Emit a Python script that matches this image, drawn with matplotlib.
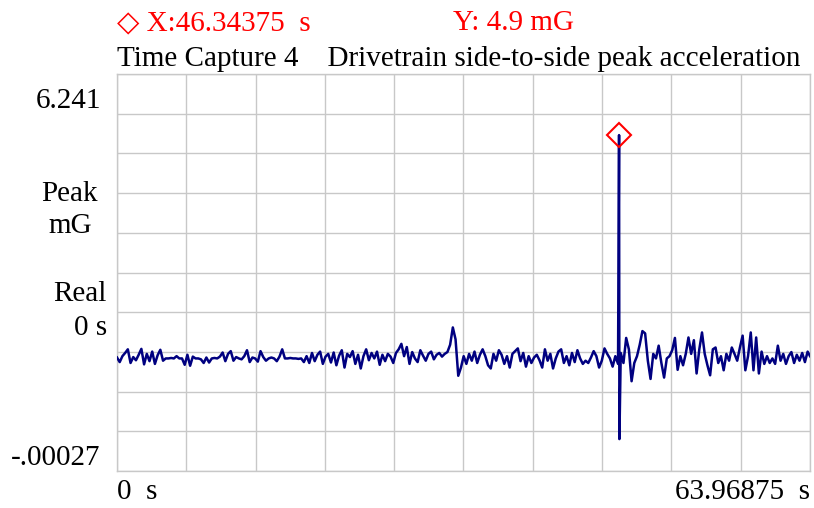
import matplotlib.pyplot as plt
import numpy as np

# Drivetrain side-to-side peak acceleration, time capture 4
t_end = 63.96875
t_step = 0.25
peak_t = 46.34375
peak_mg = 4.9
y_top = 6.241
y_bottom = -2.47

# peak acceleration (mG) sampled every 0.25 s from 0 s
accel_mg = [
    0.02, -0.08, 0.05, 0.12, 0.20, -0.10, 0.03, -0.04, 0.08, 0.21, -0.13, 0.10, -0.06, 0.15, -0.12, 0.07,
    0.19, -0.05, 0.00, 0.00, 0.01, 0.00, 0.05, 0.00, 0.00, -0.14, 0.08, -0.16, 0.04, 0.00, 0.00, -0.02,
    -0.10, 0.02, -0.09, 0.00, 0.01, 0.00, 0.04, 0.13, -0.06, 0.10, 0.16, -0.05, 0.03, 0.00, -0.02, 0.05,
    0.18, -0.08, 0.02, 0.00, -0.07, 0.16, 0.03, -0.05, 0.00, 0.02, 0.00, -0.06, 0.04, 0.20, 0.00, 0.00,
    0.01, 0.00, 0.00, -0.01, 0.00, -0.08, 0.05, -0.10, 0.12, -0.06, 0.08, 0.15, -0.12, 0.04, 0.10, -0.09,
    0.13, -0.15, 0.06, 0.18, -0.20, 0.10, 0.03, 0.16, -0.12, 0.08, -0.22, 0.05, 0.20, -0.04, 0.12, 0.00,
    0.15, -0.14, 0.08, -0.06, 0.10, 0.04, -0.10, 0.12, 0.20, 0.32, 0.05, 0.25, -0.12, 0.14, 0.00, -0.08,
    0.18, 0.06, -0.05, 0.10, 0.15, -0.02, 0.08, 0.12, 0.04, 0.10, 0.14, 0.30, 0.68, 0.42, -0.38, -0.20,
    0.05, -0.12, 0.10, -0.05, 0.15, -0.10, 0.08, 0.20, 0.05, -0.15, -0.22, 0.10, -0.05, 0.18, 0.08, -0.12,
    0.05, -0.20, 0.10, 0.16, 0.22, -0.06, 0.12, -0.18, 0.05, -0.10, 0.02, 0.08, -0.04, -0.20, 0.20, -0.05,
    0.10, -0.22, 0.00, 0.15, 0.20, -0.10, 0.05, -0.15, 0.12, -0.08, 0.18, 0.00, -0.12, -0.05, -0.10, 0.02,
    0.16, 0.05, -0.20, -0.05, 0.22, 0.10, 0.00, -0.18, 0.05, -0.12, 0.12, -0.10, 0.45, 0.20, -0.50, -0.10,
    0.05, 0.30, 0.60, 0.55, -0.05, -0.45, 0.10, 0.00, 0.28, -0.10, -0.42, 0.00, 0.05, 0.18, 0.45, -0.25,
    0.05, -0.15, 0.10, 0.46, 0.10, 0.40, -0.33, 0.20, 0.57, 0.10, -0.15, -0.37, 0.20, 0.24, -0.10, 0.05,
    -0.26, 0.10, -0.05, 0.24, 0.10, -0.05, 0.24, 0.50, -0.26, 0.05, 0.57, -0.26, 0.46, -0.33, 0.15, -0.12,
    0.05, -0.10, 0.00, -0.12, 0.28, -0.05, 0.10, -0.12, 0.05, 0.14, -0.10, 0.08, -0.05, 0.12, -0.08, 0.15,
]
accel_end_mg = 0.05

# short burst around the peak, sampled at 1/32 s
burst_t = [peak_t, 46.375, 46.4375]
burst_mg = [peak_mg, -1.77, -0.80]

t = np.concatenate([np.arange(len(accel_mg)) * t_step, burst_t, [t_end]])
y = np.concatenate([accel_mg, burst_mg, [accel_end_mg]])
order = np.argsort(t)
t, y = t[order], y[order]

plt.rcParams["font.family"] = ["Liberation Serif", "DejaVu Sans"]
fs = 21

fig = plt.figure(figsize=(8.14, 5.08), dpi=100)
ax = fig.add_axes([117 / 814, 37 / 508, 693 / 814, 397 / 508])

ax.plot(t, y, color="#000080", linewidth=1.8, zorder=3)
ax.plot([peak_t], [peak_mg], marker="D", markersize=12, markerfacecolor="none",
        markeredgecolor="red", markeredgewidth=1.5, zorder=4)

ax.set_xlim(0, t_end)
ax.set_ylim(y_bottom, y_top)
ax.set_xticks(np.linspace(0, t_end, 11))
ax.set_yticks(np.linspace(y_bottom, y_top, 11))
ax.tick_params(length=0, labelbottom=False, labelleft=False)
ax.grid(True, color="#c8c8c8", linewidth=1.0)
ax.set_axisbelow(True)
for spine in ax.spines.values():
    spine.set_color("#c8c8c8")
    spine.set_linewidth(1.0)

def fig_text(x, y, s, **kw):
    fig.text(x / 814, 1 - y / 508, s, fontsize=fs, va="center", **kw)

fig_text(117, 23, "\u25c7 X:46.34375  s", color="red", ha="left")
fig_text(453, 23, "Y: 4.9 mG", color="red", ha="left")
fig_text(117, 59, "Time Capture 4    Drivetrain side-to-side peak acceleration", ha="left")
fig_text(101, 101, "6.241", ha="right")
fig_text(69, 194, "Peak", ha="center")
fig_text(70, 226, "mG", ha="center")
fig_text(107, 294, "Real", ha="right")
fig_text(107, 328, "0 s", ha="right")
fig_text(100, 458, "-.00027", ha="right")
fig_text(117, 492, "0  s", ha="left")
fig_text(810, 492, "63.96875  s", ha="right")

fig.savefig("out.png", dpi=100)
